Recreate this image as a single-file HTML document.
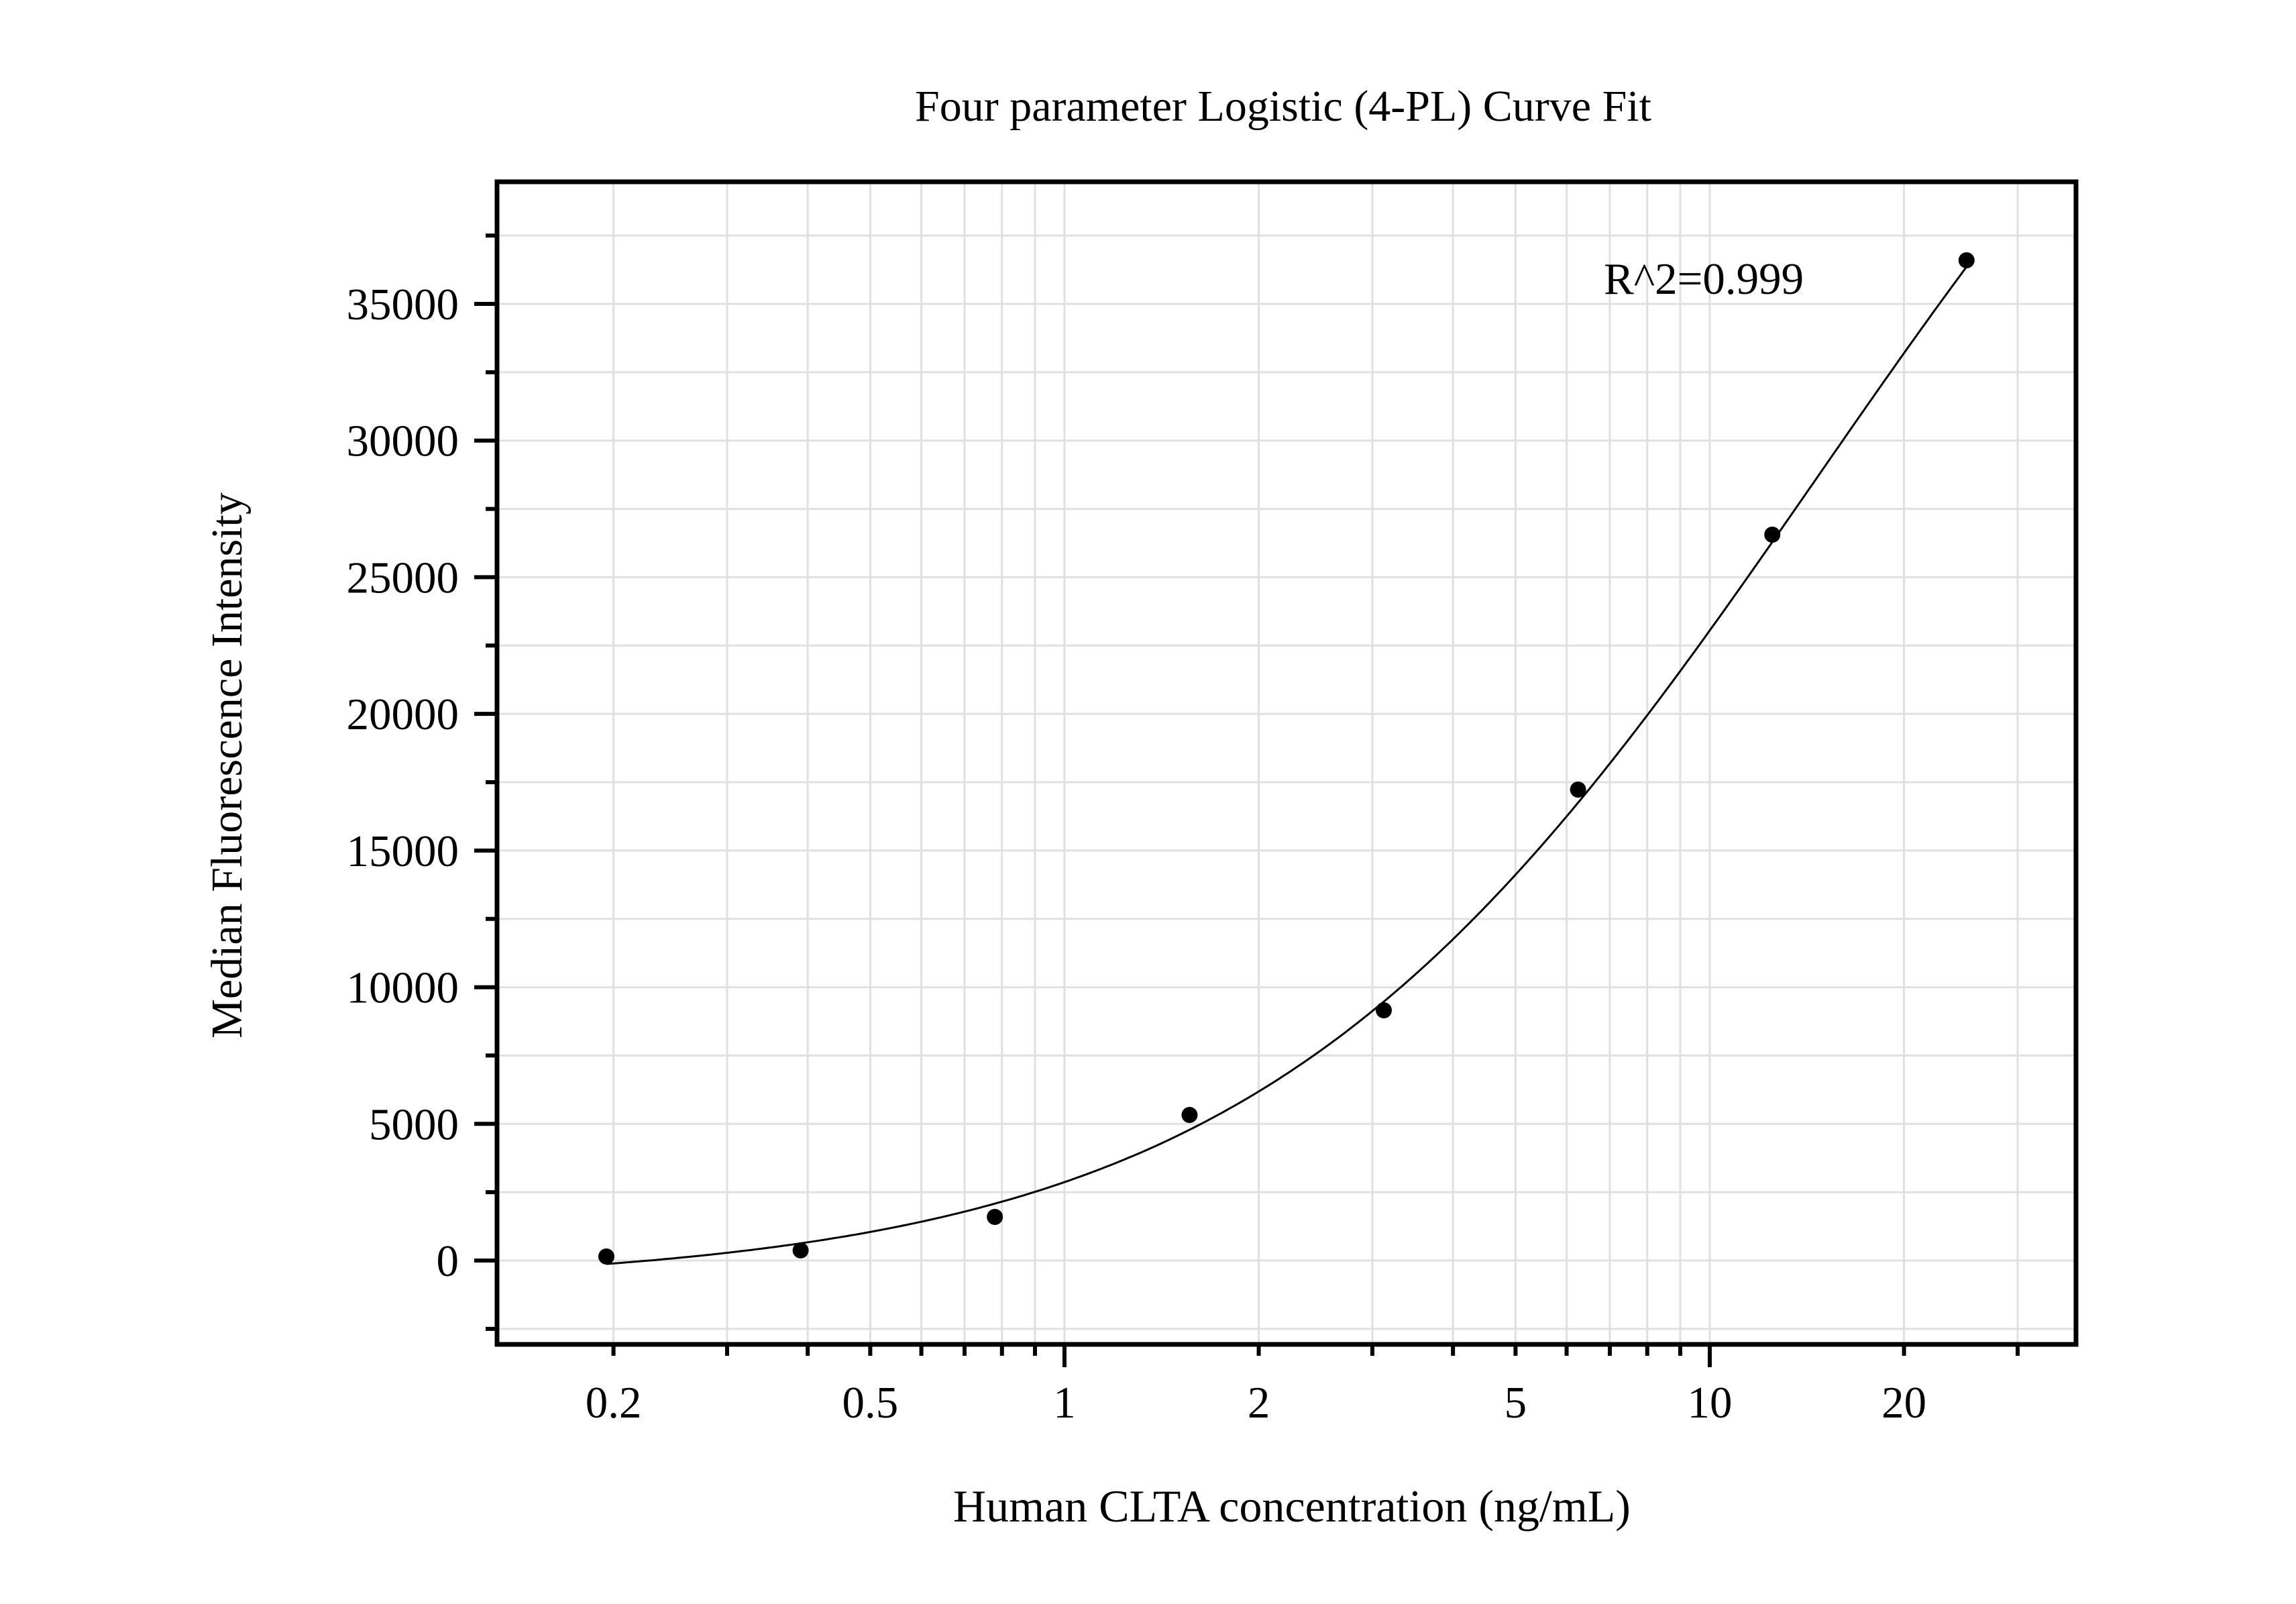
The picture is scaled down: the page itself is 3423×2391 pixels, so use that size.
<!DOCTYPE html>
<html><head><meta charset="utf-8"><style>
html,body{margin:0;padding:0;background:#fff;}
svg{display:block;font-family:"Liberation Serif",serif;}
</style></head><body>
<svg id="chart" xmlns="http://www.w3.org/2000/svg" width="3423" height="2391" viewBox="0 0 3423 2391">
<rect width="3423" height="2391" fill="#fff"/>
<g id="grid"></g>
<g id="ticks"></g>
<g id="curve"></g>
<g id="points"></g>
<rect x="741" y="271" width="2354" height="1733" fill="none" stroke="#000" stroke-width="7"/>
<text x="1913" y="180" font-size="66" text-anchor="middle">Four parameter Logistic (4-PL) Curve Fit</text>
<text x="1926" y="2268" font-size="68" text-anchor="middle">Human CLTA concentration (ng/mL)</text>
<text x="0" y="0" font-size="66" text-anchor="middle" transform="translate(360,1141) rotate(-90)">Median Fluorescence Intensity</text>
<text x="2391" y="438" font-size="67">R^2=0.999</text>
</svg>
<script>
const concentrations = [0.195, 0.39, 0.78, 1.5625, 3.125, 6.25, 12.5, 25];
const mfiValues = [147, 370, 1595, 5326, 9155, 17230, 26557, 36595];
const fitParams = [-900, 1.0, 14.7, 58260]; // a (bottom), b (slope), c (EC50), d (top)
const xTickLabels = [0.2, 0.5, 1, 2, 5, 10, 20];
const yTickLabels = [0, 5000, 10000, 15000, 20000, 25000, 30000, 35000];

const NS = "http://www.w3.org/2000/svg";
const L = 741, R = 3095, T = 271, B = 2004;
function X(v){ return 1587 + 962 * Math.log10(v); }
function Y(v){ return 1879 - v * 0.040743; }
function mk(tag, attrs, parent){
  const e = document.createElementNS(NS, tag);
  for (const k in attrs) e.setAttribute(k, attrs[k]);
  parent.appendChild(e); return e;
}
const grid = document.getElementById('grid');
const ticks = document.getElementById('ticks');
const svg = document.getElementById('chart');

const xMinor = [];
for (const dec of [0.1, 1, 10]) for (let m = 1; m <= 9; m++) xMinor.push(dec * m);
xMinor.forEach(v => {
  const x = X(v);
  if (x < L + 5 || x > R - 5) return;
  const g = mk('line', {x1:x, x2:x, y1:T, y2:B, stroke:'#e0e0e0', 'stroke-width':3}, grid);
  
  
  const major = Math.abs(Math.log10(v) - Math.round(Math.log10(v))) < 1e-6;
  const t = mk('line', {x1:x, x2:x, y1:B, y2:B + (major ? 34 : 17), stroke:'#000', 'stroke-width':6}, ticks);
  
  
});
xTickLabels.forEach(v => {
  const t = mk('text', {x:X(v), y:2113, 'font-size':67, 'text-anchor':'middle'}, svg);
  t.textContent = String(v);
  
  
});
for (let v = -2500; v <= 37500; v += 2500) {
  const y = Y(v);
  const g = mk('line', {x1:L, x2:R, y1:y, y2:y, stroke:'#e0e0e0', 'stroke-width':3}, grid);
  
  
  const major = v % 5000 === 0;
  const t = mk('line', {x1:L - (major ? 34 : 17), x2:L, y1:y, y2:y, stroke:'#000', 'stroke-width':6}, ticks);
  
  
}
yTickLabels.forEach(v => {
  const t = mk('text', {x:684, y:Y(v) + 23, 'font-size':67, 'text-anchor':'end'}, svg);
  t.textContent = String(v);
  
  
});
function fpl(x){ const [a,b,c,d] = fitParams; return d + (a - d) / (1 + Math.pow(x / c, b)); }
let dstr = '';
const lo = Math.log10(concentrations[0]), hi = Math.log10(concentrations[concentrations.length - 1]);
for (let i = 0; i <= 300; i++) {
  const lx = lo + (hi - lo) * i / 300, x = Math.pow(10, lx);
  dstr += (i ? 'L' : 'M') + X(x).toFixed(1) + ',' + Y(fpl(x)).toFixed(1);
}
const path = mk('path', {d:dstr, fill:'none', stroke:'#000', 'stroke-width':3}, document.getElementById('curve'));


const pts = document.getElementById('points');
concentrations.forEach((c, i) => {
  const p = mk('circle', {cx:X(c), cy:Y(mfiValues[i]), r:12, fill:'#000'}, pts);
  
  
});
</script>
</body></html>
